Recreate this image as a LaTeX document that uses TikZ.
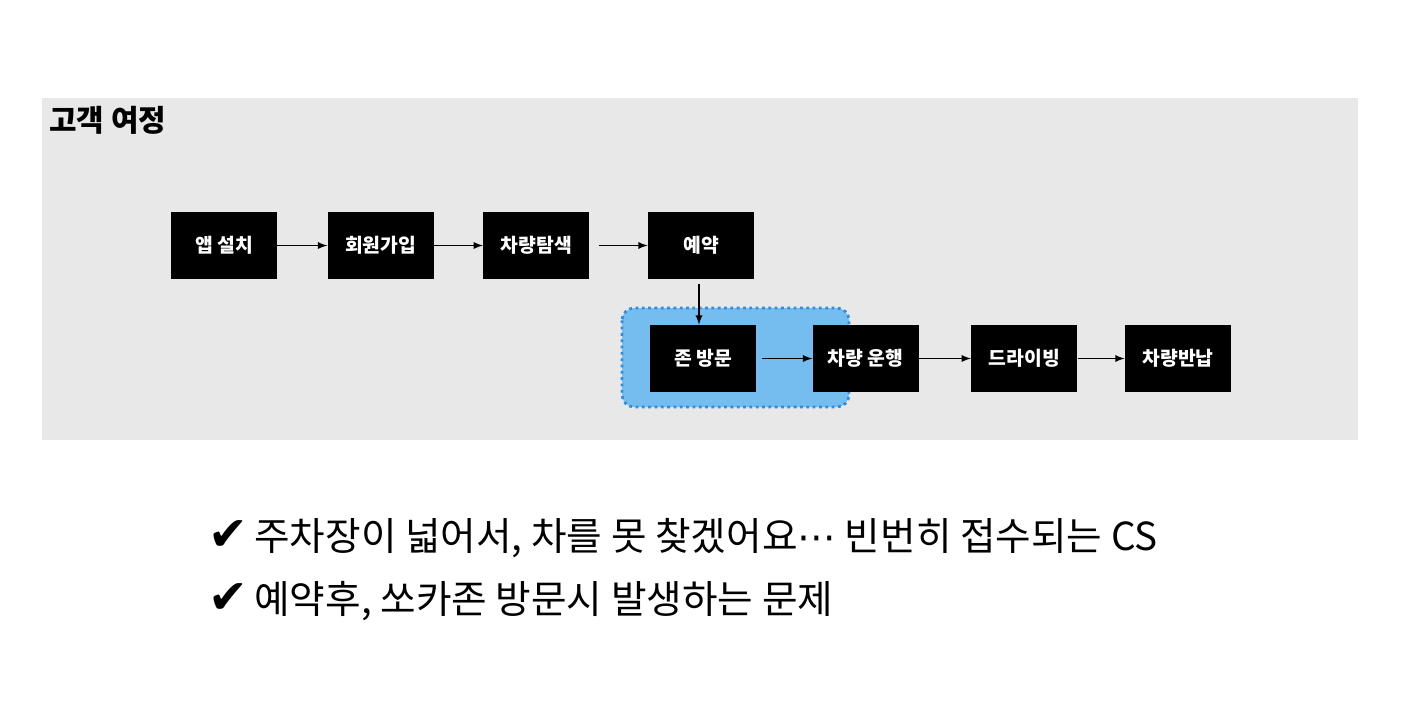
\documentclass[tikz,border=0pt]{standalone}
\usepackage{fontspec}
\setmainfont{Noto Sans CJK KR}
\newfontfamily\checkfont{DejaVu Sans}
\usetikzlibrary{positioning}

\definecolor{panelgray}{HTML}{E8E8E8}
\definecolor{zonefill}{HTML}{74BDEE}
\definecolor{zoneedge}{HTML}{2B8FE3}

\tikzset{
  stagebox/.style={fill=black, text=white, inner sep=0pt,
    minimum width=2.12cm, minimum height=1.34cm,
    font=\fontsize{11}{13}\selectfont\bfseries},
  flow/.style={-latex, line width=0.85pt},
  notetext/.style={anchor=base west, font=\fontsize{22}{26}\selectfont},
}
\newcommand{\bigcheck}{{\checkfont\fontsize{27}{27}\selectfont ✔}}

\begin{document}
\begin{tikzpicture}[x=0.02cm, y=-0.02cm]
  \useasboundingbox (0,0) rectangle (1415,701);

  % panel for the journey
  \fill[panelgray] (42,98) rectangle (1358,440);
  \node[anchor=base west, font=\fontsize{17}{19}\selectfont\bfseries] (title) at (43,131) {고객 여정};

  % highlighted zone visit
  \draw[zoneedge, fill=zonefill, dotted, line width=1.6pt, rounded corners=7pt]
    (622,308) rectangle (849,407);

  % first row
  \node[stagebox] (app) at (224,245.5) {앱 설치};
  \node[stagebox, right=1cm of app] (join) {회원가입};
  \node[stagebox, right=0.98cm of join] (search) {차량탐색};
  \node[stagebox, right=1.16cm of search] (book) {예약};

  % second row
  \node[stagebox] (visit) at (703,358.5) {존 방문};
  \node[stagebox, right=1.12cm of visit] (drive) {차량 운행};
  \node[stagebox, right=1.04cm of drive] (driving) {드라이빙};
  \node[stagebox, right=0.94cm of driving] (return) {차량반납};

  \draw[flow] (app) -- (join);
  \draw[flow] (join) -- (search);
  \draw[flow, shorten <=0.18cm] (search) -- (book);
  \draw[flow, shorten <=0.1cm] (book.south -| visit.north) ++(-4,0) coordinate (bookdown) -- (bookdown |- visit.north);
  \draw[flow, shorten <=0.12cm] (visit) -- (drive);
  \draw[flow] (drive) -- (driving);
  \draw[flow] (driving) -- (return);

  % notes below
  \node[notetext] (note1) at (202,550)
    {\bigcheck\,주차장이 넓어서, 차를 못 찾겠어요{\checkfont ⋯} 빈번히 접수되는 CS};
  \node[notetext] (note2) at (202,613)
    {\bigcheck\,예약후, 쏘카존 방문시 발생하는 문제};
\end{tikzpicture}
\end{document}
